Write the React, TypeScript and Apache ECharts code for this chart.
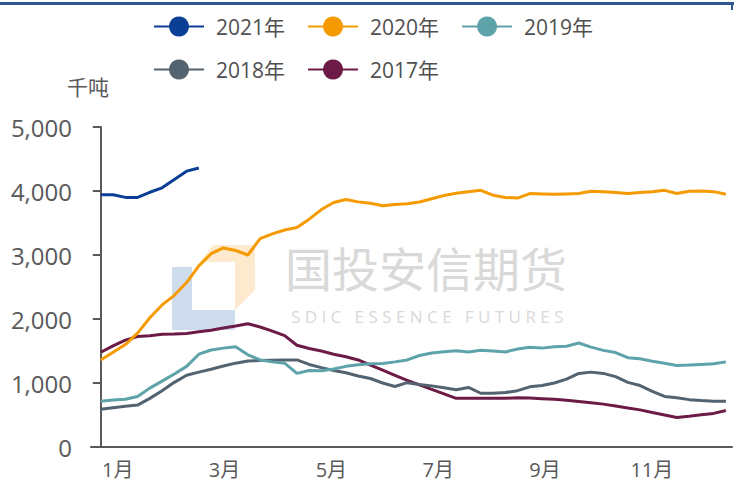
import React, { useEffect, useRef } from "react";
import * as echarts from "echarts";

const months = ["1月", "2月", "3月", "4月", "5月", "6月", "7月", "8月", "9月", "10月", "11月", "12月"];
const yTicks = [0, 1000, 2000, 3000, 4000, 5000];
const seriesNames = ["2021年", "2020年", "2019年", "2018年", "2017年"];
const seriesColors = ["#0b3f96", "#f59a00", "#5ea3aa", "#53636f", "#6c1b46"];

const y2021 = [3940, 3940, 3900, 3900, 3980, 4050, 4180, 4310, 4360];
const y2020 = [
  1360, 1480, 1600, 1780, 2020, 2220, 2370, 2570, 2830, 3020, 3110, 3070, 3000, 3256, 3330, 3390,
  3430, 3560, 3710, 3820, 3866, 3830, 3810, 3770, 3790, 3800, 3828, 3880, 3930, 3965, 3990, 4010,
  3935, 3900, 3890, 3960, 3955, 3950, 3955, 3960, 3995, 3990, 3975, 3960, 3975, 3990, 4010, 3960,
  3995, 4000, 3990, 3950,
];
const y2019 = [
  715, 735, 745, 790, 920, 1030, 1140, 1260, 1450, 1515, 1545, 1565, 1440, 1360, 1330, 1310,
  1150, 1195, 1190, 1220, 1260, 1285, 1300, 1305, 1330, 1360, 1430, 1470, 1490, 1505, 1485, 1510,
  1500, 1485, 1530, 1560, 1545, 1565, 1575, 1625, 1560, 1510, 1475, 1395, 1380, 1340, 1310, 1275,
  1280, 1290, 1300, 1330,
];
const y2018 = [
  590, 615, 635, 655, 760, 880, 1010, 1120, 1170, 1215, 1265, 1310, 1345, 1350, 1355, 1360,
  1360, 1290, 1240, 1195, 1160, 1110, 1070, 1000, 945, 1005, 975, 955, 925, 895, 930, 840,
  840, 850, 880, 940, 960, 1000, 1060, 1150, 1170, 1150, 1100, 1010, 960, 870, 790, 770,
  740, 725, 715, 715,
];
const y2017 = [
  1480, 1580, 1670, 1725, 1740, 1760, 1765, 1775, 1800, 1825, 1860, 1890, 1925, 1875, 1810, 1740,
  1590, 1540, 1500, 1450, 1410, 1360, 1280, 1200, 1120, 1040, 970, 900, 830, 760, 760, 760,
  760, 760, 770, 765, 755, 745, 730, 710, 690, 670, 640, 610, 580, 540, 500, 460,
  480, 505, 525, 570,
];
const allSeries = [y2021, y2020, y2019, y2018, y2017];

const FONT = "'Open Sans', 'Noto Sans CJK SC', sans-serif";

export default function App() {
  const ref = useRef<HTMLDivElement>(null);
  useEffect(() => {
    if (!ref.current) return;
    const chart = echarts.init(ref.current, null, { renderer: "svg" });
    const legendCommon = {
      left: 153,
      padding: 0,
      itemWidth: 50,
      itemHeight: 25,
      itemGap: 22,
      lineStyle: { width: 2 },
      textStyle: { fontSize: 21, color: "#505050", fontFamily: FONT, padding: [0, 0, 0, 7] },
    };
    chart.setOption({
      animation: false,
      backgroundColor: "#ffffff",
      legend: [
        { ...legendCommon, top: 16, data: seriesNames.slice(0, 3) },
        { ...legendCommon, top: 59, data: seriesNames.slice(3) },
      ],
      grid: { left: 91, right: 2, top: 127, bottom: 41, containLabel: false },
      xAxis: [
        {
          type: "category",
          data: months,
          boundaryGap: true,
          axisLine: { lineStyle: { color: "#595959", width: 2 } },
          axisTick: { interval: 1, length: 7, lineStyle: { color: "#595959", width: 2 } },
          axisLabel: { interval: 1, fontSize: 20, color: "#595959", fontFamily: FONT, margin: 12 },
          splitLine: { show: false },
        },
        { type: "value", min: -0.8, max: 51.5, show: false },
      ],
      yAxis: {
        type: "value",
        min: yTicks[0],
        max: yTicks[yTicks.length - 1],
        interval: 1000,
        axisLine: { show: true, lineStyle: { color: "#595959", width: 2 } },
        axisTick: { show: true, length: 8, lineStyle: { color: "#595959", width: 2 } },
        axisLabel: {
          fontSize: 24,
          color: "#595959",
          fontFamily: FONT,
          margin: 19,
          formatter: (v: number) => v.toLocaleString("en-US"),
        },
        splitLine: { show: false },
      },
      graphic: [
        { type: "rect", left: 0, top: 2, shape: { width: 734, height: 3 }, style: { fill: "#2f5597" }, z: 100 },
        { type: "rect", left: 731, top: 2, shape: { width: 2, height: 8 }, style: { fill: "#2f5597" }, z: 100 },
        {
          type: "polygon",
          shape: { points: [[172, 267], [192, 267], [192, 310], [235, 310], [235, 330], [172, 330]] },
          style: { fill: "#cfdcee" },
          z: -1,
        },
        {
          type: "polygon",
          shape: { points: [[213, 245], [255, 245], [255, 290], [235, 310], [235, 262], [200, 262]] },
          style: { fill: "#fde9cd" },
          z: -1,
        },
        {
          type: "text",
          left: 285,
          top: 243,
          style: { text: "国投安信期货", fontSize: 47, fill: "#d9d9d9", fontFamily: "'Noto Sans CJK SC', sans-serif" },
          z: -1,
        },
        {
          type: "text",
          left: 291,
          top: 308,
          style: {
            text: "S D I C   E S S E N C E   F U T U R E S",
            fontSize: 17,
            fill: "#d9d9d9",
            fontFamily: "'Open Sans', sans-serif",
          },
          z: -1,
        },
        {
          type: "text",
          left: 67,
          top: 75,
          style: { text: "千吨", fontSize: 21, fill: "#595959", fontFamily: "'Noto Sans CJK SC', sans-serif" },
        },
      ],
      series: allSeries.map((vals, k) => ({
        name: seriesNames[k],
        type: "line",
        xAxisIndex: 1,
        yAxisIndex: 0,
        data: vals.map((v, i) => [i, v]),
        symbol: "circle",
        showSymbol: false,
        color: seriesColors[k],
        lineStyle: { width: 3, color: seriesColors[k] },
        itemStyle: { color: seriesColors[k] },
        z: 10 - k,
      })),
    });
    return () => chart.dispose();
  }, []);
  return <div ref={ref} style={{ position: "fixed", left: 0, top: 0, width: 734, height: 488 }} />;
}
